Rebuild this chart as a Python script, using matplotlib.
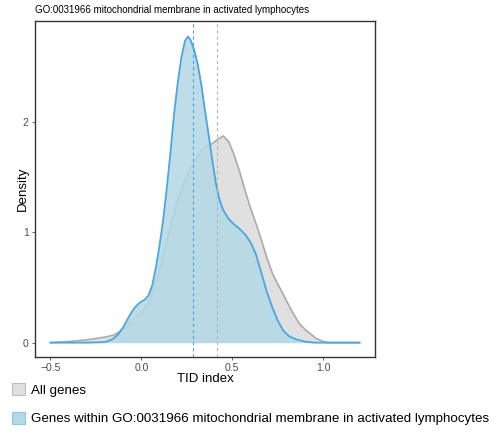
import matplotlib

matplotlib.use("Agg")

import matplotlib.pyplot as plt
from matplotlib.patches import Patch

plt.rcParams["font.family"] = ["Liberation Sans", "DejaVu Sans"]

TITLE = "GO:0031966 mitochondrial membrane in activated lymphocytes"
LABEL_ALL = "All genes"
LABEL_GO = "Genes within GO:0031966 mitochondrial membrane in activated lymphocytes"

# density curve: all genes
all_x = [-0.50, -0.40, -0.30, -0.20, -0.15, -0.10, -0.05, 0.00, 0.04, 0.08,
         0.10, 0.13, 0.16, 0.20, 0.24, 0.27, 0.30, 0.33, 0.36, 0.39,
         0.42, 0.45, 0.48, 0.51, 0.54, 0.57, 0.60, 0.63, 0.66, 0.69,
         0.72, 0.75, 0.78, 0.81, 0.84, 0.87, 0.90, 0.93, 0.96, 1.00,
         1.03, 1.20]
all_y = [0.00, 0.01, 0.025, 0.05, 0.07, 0.12, 0.20, 0.28, 0.36, 0.55,
         0.66, 0.86, 1.05, 1.30, 1.47, 1.57, 1.66, 1.74, 1.78, 1.80,
         1.84, 1.87, 1.82, 1.70, 1.55, 1.38, 1.22, 1.08, 0.93, 0.77,
         0.63, 0.53, 0.44, 0.34, 0.25, 0.17, 0.12, 0.08, 0.04, 0.01,
         0.00, 0.00]

# density curve for genes in the GO term
go_x = [-0.50, -0.30, -0.20, -0.16, -0.13, -0.10, -0.07, -0.04, -0.01, 0.02,
        0.04, 0.06, 0.08, 0.10, 0.12, 0.14, 0.16, 0.18, 0.20, 0.22,
        0.24, 0.255, 0.27, 0.29, 0.31, 0.33, 0.35, 0.37, 0.39, 0.41,
        0.43, 0.45, 0.48, 0.51, 0.54, 0.57, 0.60, 0.63, 0.66, 0.69,
        0.72, 0.75, 0.78, 0.81, 0.85, 0.90, 0.95, 1.20]
go_y = [0.00, 0.00, 0.005, 0.03, 0.07, 0.14, 0.23, 0.31, 0.36, 0.39,
        0.43, 0.52, 0.68, 0.88, 1.11, 1.40, 1.72, 2.07, 2.35, 2.58,
        2.73, 2.77, 2.74, 2.65, 2.52, 2.33, 2.10, 1.88, 1.65, 1.44,
        1.29, 1.20, 1.12, 1.07, 1.03, 0.98, 0.91, 0.80, 0.63, 0.46,
        0.32, 0.20, 0.11, 0.06, 0.03, 0.01, 0.00, 0.00]

mean_all = 0.415
mean_go = 0.285

GRAY_LINE = "#ababab"
GRAY_FILL = "#e0e0e0"
BLUE_LINE = "#47a7df"
BLUE_FILL = "#b3d8e6"

fig = plt.figure(figsize=(4.98, 4.34), dpi=100)
ax = fig.add_axes([0.0703, 0.1774, 0.6827, 0.7742])

# explicit zorder so the blue fill sits over the grey outline
ax.fill_between(all_x, all_y, color=GRAY_FILL, lw=0, zorder=1)
ax.plot(all_x, all_y, color=GRAY_LINE, lw=1.2, zorder=2)
ax.fill_between(go_x, go_y, color=BLUE_FILL, alpha=0.85, lw=0, zorder=3)
ax.plot(go_x, go_y, color=BLUE_LINE, lw=1.3, zorder=4)

ax.axvline(mean_go, color=BLUE_LINE, ls=(0, (3, 2.5)), lw=0.8, zorder=5)
ax.axvline(mean_all, color="#b5b5b5", ls=(0, (3, 2.5)), lw=0.8, zorder=5)

ax.set_xlim(-0.585, 1.285)
ax.set_ylim(-0.13, 2.91)
ax.set_xticks([-0.5, 0.0, 0.5, 1.0])
ax.set_xticklabels(["\u22120.5", "0.0", "0.5", "1.0"])
ax.set_yticks([0, 1, 2])
ax.tick_params(labelsize=7.5, colors="#4d4d4d", length=2.5, width=0.6, pad=2)
for side in ax.spines.values():
    side.set_color("#333333")
    side.set_linewidth(1.0)

ax.set_xlabel("TID index", fontsize=9.5, labelpad=0)
ax.set_ylabel("Density", fontsize=9.5, labelpad=-4)
fig.text(0.0703, 0.965, TITLE, fontsize=7, ha="left", va="bottom")

handles = [
    Patch(facecolor=GRAY_FILL, edgecolor="#bdbdbd", lw=0.8),
    Patch(facecolor=BLUE_FILL, edgecolor="#8fc6e0", lw=0.8),
]
fig.legend(handles, [LABEL_ALL, LABEL_GO], loc="upper left",
           bbox_to_anchor=(0.024, 0.117), frameon=False, fontsize=9.6,
           handlelength=1.0, handleheight=1.0, handletextpad=0.4,
           labelspacing=1.12, borderpad=0, borderaxespad=0)

fig.savefig("out.png")
